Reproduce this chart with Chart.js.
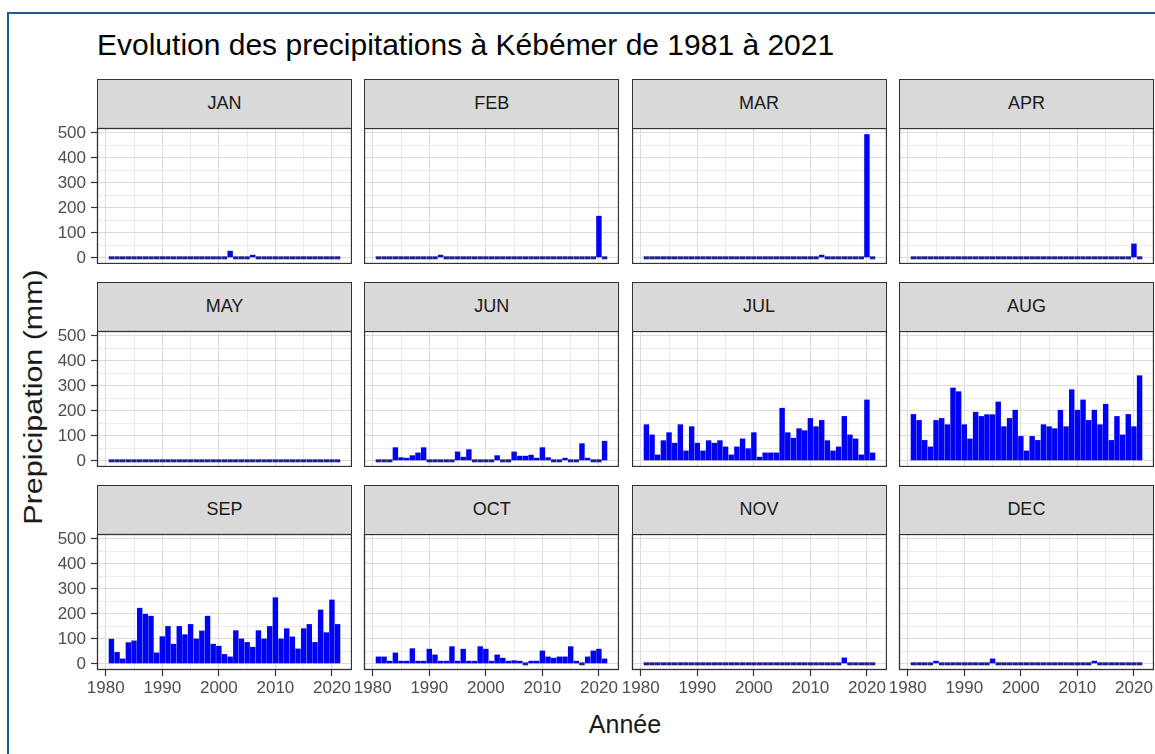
<!DOCTYPE html>
<html>
<head>
<meta charset="utf-8">
<script src="https://cdn.jsdelivr.net/npm/chart.js@4.4.1/dist/chart.umd.min.js"></script>
<style>
  html, body { margin: 0; padding: 0; background: #fff; overflow: hidden; }
  body { width: 1155px; height: 754px; position: relative; font-family: "Liberation Sans", Arial, sans-serif; }
  #frame { position: absolute; left: 7px; top: 12px; width: 1170px; height: 770px; border: 2px solid #1b5c8a; }
  #title { position: absolute; left: 97px; top: 30px; font-size: 30px; line-height: 1; color: #000; white-space: nowrap; }
  #xtitle { position: absolute; left: 97px; width: 1056px; top: 712px; text-align: center; font-size: 25px; line-height: 1; color: #1a1a1a; }
  #ytitle { position: absolute; left: 33px; top: 397px; transform: translate(-50%, -50%) rotate(-90deg) scaleX(1.17); font-size: 26px; line-height: 1; color: #1a1a1a; white-space: nowrap; }
  .strip { position: absolute; background: #d9d9d9; border: 1px solid #333; box-sizing: border-box; text-align: center; font-size: 18px; color: #1a1a1a; }
  canvas { position: absolute; }
</style>
</head>
<body>
<div id="frame"></div>
<div id="title">Evolution des precipitations à Kébémer de 1981 à 2021</div>
<div id="ytitle">Prepicipation (mm)</div>
<div id="xtitle">Année</div>
<script>
// Data
const years = [1981, 1982, 1983, 1984, 1985, 1986, 1987, 1988, 1989, 1990,
               1991, 1992, 1993, 1994, 1995, 1996, 1997, 1998, 1999, 2000,
               2001, 2002, 2003, 2004, 2005, 2006, 2007, 2008, 2009, 2010,
               2011, 2012, 2013, 2014, 2015, 2016, 2017, 2018, 2019, 2020, 2021];
const months = ['JAN', 'FEB', 'MAR', 'APR', 'MAY', 'JUN', 'JUL', 'AUG', 'SEP', 'OCT', 'NOV', 'DEC'];

const jan = [0,0,0,0,0,0,0,0,0,0, 0,0,0,0,0,0,0,0,0,0, 0,28,0,0,0,12,0,0,0,0, 0,0,0,0,0,0,0,0,0,0, 0];
const feb = [0,0,0,0,0,0,0,0,0,0, 0,10,0,0,0,0,0,0,0,0, 0,0,0,0,0,0,0,0,0,0, 0,0,0,0,0,0,0,0,0,168, 0];
const mar = [0,0,0,0,0,0,0,0,0,0, 0,0,0,0,0,0,0,0,0,0, 0,0,0,0,0,0,0,0,0,0, 0,10,0,0,0,0,0,0,0,495, 0];
const apr = [0,0,0,0,0,0,0,0,0,0, 0,0,0,0,0,0,0,0,0,0, 0,0,0,0,0,0,0,0,0,0, 0,0,0,0,0,0,0,0,0,57, 0];
const may = [0,0,0,0,0,0,0,0,0,0, 0,0,0,0,0,0,0,0,0,0, 0,0,0,0,0,0,0,0,0,0, 0,0,0,0,0,0,0,0,0,0, 0];
const jun = [0,0,0,54,14,10,22,33,54,0, 0,0,0,0,37,16,46,0,0,0, 0,22,0,0,37,20,20,24,8,54, 14,0,0,12,0,0,70,10,0,0, 80];
const jul = [146,105,25,82,114,72,146,41,138,72, 41,82,72,82,57,25,57,89,50,114,
             16,33,33,33,212,114,92,130,122,171, 138,163,82,41,57,179,105,89,25,245, 33];
const aug = [187,163,83,57,163,171,146,293,278,146, 89,196,179,186,186,237,138,171,204,99,
             41,99,83,146,138,130,204,138,286,204, 245,163,204,146,228,83,179,105,187,138, 342];
const sep = [100,47,21,86,93,224,200,192,45,110, 151,80,151,118,159,101,133,192,80,72,
             39,29,134,101,87,68,134,101,151,266, 101,142,109,61,142,159,87,217,126,257, 159];
const oct = [29,29,8,45,8,8,62,5,5,60, 37,5,5,70,8,60,8,8,70,60,
             8,37,24,5,14,4,0,8,8,53, 29,24,29,29,70,4,0,29,53,60, 21];
const nov = [0,0,0,0,0,0,0,0,0,0, 0,0,0,0,0,0,0,0,0,0, 0,0,0,0,0,0,0,0,0,0, 0,0,0,0,0,25,0,0,0,0, 0];
const dec = [0,0,0,0,10,0,0,0,0,0, 0,0,0,0,21,0,0,0,0,0, 0,0,0,0,0,0,0,0,0,0, 0,0,12,0,0,0,0,0,0,0, 0];

const xTicks = [1980, 1985, 1990, 1995, 2000, 2005, 2010, 2015, 2020];
const xLabels = [1980, 1990, 2000, 2010, 2020];
const yTicks = [0, 50, 100, 150, 200, 250, 300, 350, 400, 450, 500];
const yLabels = [0, 100, 200, 300, 400, 500];

const panels = [jan, feb, mar, apr, may, jun, jul, aug, sep, oct, nov, dec];

// Layout
const plotLeft = 97, colStep = 267.3, plotW = 255;
const plotTop = 128, rowStep = 203, plotH = 136, stripH = 49;
const yAxisW = 45, xAxisH = 30, labelRoom = 18, topRoom = 10;
const xMin = 1978.45, xMax = 2023.55, yMin = -24.75, yMax = 519.75;

const barColor = '#0000f5';
const zeroColor = '#20208a';
const tickFont = { family: 'Liberation Sans', size: 17 };

// Draw the grey20 border round each panel
const panelBorder = {
    id: 'panelBorder',
    afterDraw(chart) {
        const a = chart.chartArea;
        const c = chart.ctx;
        c.save();
        c.strokeStyle = '#333333';
        c.lineWidth = 1.3;
        c.strokeRect(a.left + 0.5, a.top + 0.5, a.right - a.left - 1, a.bottom - a.top - 1);
        c.restore();
    }
};

// no extra room for labels that hang over the panel edge
function noPadding(s) {
    s.paddingLeft = 0;
    s.paddingRight = 0;
    s.paddingTop = 0;
    s.paddingBottom = 0;
}

months.forEach((month, i) => {
    const col = i % 4;
    const row = Math.floor(i / 4);
    const left = plotLeft + col * colStep;
    const top = plotTop + row * rowStep;
    const showY = col === 0;
    const showX = row === 2;
    const padL = (!showY && showX) ? labelRoom : 0;
    const padT = showY ? topRoom : 0;

    // Strip
    const strip = document.createElement('div');
    strip.className = 'strip';
    strip.style.left = left + 'px';
    strip.style.top = (top - stripH) + 'px';
    strip.style.width = plotW + 'px';
    strip.style.height = (stripH + 1) + 'px';
    strip.style.lineHeight = (stripH - 2) + 'px';
    strip.textContent = month;
    document.body.appendChild(strip);

    // Canvas
    const cv = document.createElement('canvas');
    cv.width = plotW + (showY ? yAxisW : 0) + padL;
    cv.height = plotH + (showX ? xAxisH : 0) + padT;
    cv.style.left = (left - (showY ? yAxisW : 0) - padL) + 'px';
    cv.style.top = (top - padT) + 'px';
    document.body.appendChild(cv);

    new Chart(cv, {
        type: 'bar',
        data: {
            datasets: [{
                data: years.map((y, k) => ({ x: y, y: panels[i][k] })),
                backgroundColor: ctx => (ctx.raw && ctx.raw.y === 0 ? zeroColor : barColor),
                borderWidth: 0,
                barPercentage: 0.96,
                categoryPercentage: 1,
                minBarLength: 3
            }]
        },
        options: {
            responsive: false,
            animation: false,
            events: [],
            layout: { padding: { left: padL, right: 0, top: padT, bottom: 0 } },
            plugins: { legend: { display: false }, tooltip: { enabled: false } },
            scales: {
                x: {
                    type: 'linear',
                    min: xMin,
                    max: xMax,
                    offset: false,
                    afterBuildTicks: s => { s.ticks = xTicks.map(v => ({ value: v })); },
                    afterFit: s => { s.height = showX ? xAxisH : 0; noPadding(s); },
                    border: { display: false },
                    grid: {
                        offset: false,
                        color: c => (xLabels.includes(c.tick.value) ? '#dcdcdc' : '#ebebeb'),
                        lineWidth: 1,
                        drawTicks: showX,
                        tickLength: 6,
                        tickWidth: 1.2,
                        tickColor: c => (xLabels.includes(c.tick.value) ? '#333333' : 'rgba(0,0,0,0)')
                    },
                    ticks: {
                        display: showX,
                        autoSkip: false,
                        maxRotation: 0,
                        padding: 2,
                        color: '#4d4d4d',
                        font: tickFont,
                        callback: v => (xLabels.includes(v) ? String(v) : '')
                    }
                },
                y: {
                    min: yMin,
                    max: yMax,
                    afterBuildTicks: s => { s.ticks = yTicks.map(v => ({ value: v })); },
                    afterFit: s => { s.width = showY ? yAxisW : 0; noPadding(s); },
                    border: { display: false },
                    grid: {
                        color: c => (yLabels.includes(c.tick.value) ? '#dcdcdc' : '#ebebeb'),
                        lineWidth: 1,
                        drawTicks: showY,
                        tickLength: 6,
                        tickWidth: 1.2,
                        tickColor: c => (yLabels.includes(c.tick.value) ? '#333333' : 'rgba(0,0,0,0)')
                    },
                    ticks: {
                        display: showY,
                        autoSkip: false,
                        padding: 5,
                        color: '#4d4d4d',
                        font: tickFont,
                        callback: v => (yLabels.includes(v) ? String(v) : '')
                    }
                }
            }
        },
        plugins: [panelBorder]
    });
});
</script>
</body>
</html>
